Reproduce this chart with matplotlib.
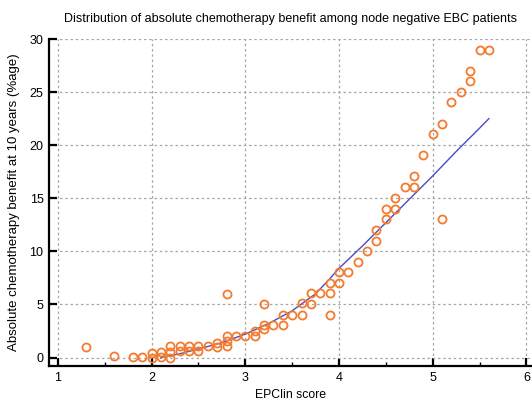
import matplotlib
matplotlib.use('Agg')
import matplotlib.pyplot as plt
from matplotlib.ticker import MultipleLocator

plt.rcParams['font.family'] = ['Liberation Sans', 'DejaVu Sans']

# observed points (EPClin score, absolute benefit %)
score = [1.3, 1.6, 1.8, 1.9, 2.0, 2.0, 2.1, 2.1, 2.2, 2.2, 2.2, 2.3, 2.3,
         2.4, 2.4, 2.5, 2.5, 2.6, 2.7, 2.7, 2.8, 2.8, 2.8, 2.8, 2.9, 3.0,
         3.1, 3.1, 3.2, 3.2, 3.2, 3.3, 3.4, 3.4, 3.5, 3.6, 3.6, 3.7, 3.7,
         3.8, 3.9, 3.9, 3.9, 4.0, 4.0, 4.1, 4.2, 4.3, 4.4, 4.4, 4.5, 4.5,
         4.6, 4.6, 4.7, 4.8, 4.8, 4.9, 5.0, 5.1, 5.1, 5.2, 5.3, 5.4, 5.4,
         5.5, 5.6]
benefit = [1.0, 0.1, 0.05, 0.05, 0.4, 0.0, 0.55, 0.05, 1.1, 0.55, 0.0, 1.1, 0.6,
           1.1, 0.6, 1.1, 0.65, 1.1, 1.4, 1.0, 6.0, 2.05, 1.6, 1.1, 2.05, 2.05,
           2.5, 2.0, 5.05, 3.1, 2.65, 3.05, 4.05, 3.05, 4.0, 5.1, 4.05, 6.05, 5.05,
           6.05, 7.05, 6.05, 4.05, 8.05, 7.05, 8.05, 9.0, 10.0, 12.0, 11.0, 14.0, 13.0,
           15.05, 14.0, 16.05, 17.05, 16.05, 19.05, 21.05, 22.0, 13.0, 24.05, 25.0, 27.0, 26.0,
           29.0, 29.0]

# fitted curve
fit_x = [2.1, 2.3, 2.5, 2.75, 3.0, 3.25, 3.5, 3.75, 3.9, 4.0, 4.25, 4.5,
         4.75, 5.0, 5.25, 5.5, 5.6]
fit_y = [0.0, 0.35, 0.8, 1.4, 2.2, 3.2, 4.4, 6.0, 7.4, 8.4, 10.5, 12.7,
         14.9, 17.1, 19.4, 21.6, 22.5]

fig = plt.figure(figsize=(5.32, 4.0), dpi=100)
ax = fig.add_axes([49/532, 1 - 366/400, 483/532, (366 - 39)/400])

ax.plot(fit_x, fit_y, color='#4b4bbf', lw=1.0, zorder=3)
ax.plot(score, benefit, 'o', mfc='none', mec='#f47a2e', ms=5.8, mew=1.3, zorder=4)

ax.set_xlim(0.905, 6.06)
ax.set_ylim(-0.8, 30)
ax.xaxis.set_major_locator(MultipleLocator(1))
ax.xaxis.set_minor_locator(MultipleLocator(0.5))
ax.yaxis.set_major_locator(MultipleLocator(5))

ax.grid(True, which='major', color='#a6a6a6', ls=(0, (2, 2.2)), lw=0.9)
for s in ['top', 'right']:
    ax.spines[s].set_visible(False)
for s in ['left', 'bottom']:
    ax.spines[s].set_linewidth(1.6)

ax.tick_params(which='major', direction='in', length=6, width=1.6, labelsize=9, pad=4)
ax.tick_params(which='minor', direction='in', length=3, width=1.0)
ax.tick_params(axis='y', which='minor', length=0)

ax.set_title('Distribution of absolute chemotherapy benefit among node negative EBC patients',
             fontsize=9, pad=12)
ax.set_xlabel('EPClin score', fontsize=8.8)
ax.set_ylabel('Absolute chemotherapy benefit at 10 years (%age)', fontsize=9.5, labelpad=7)

fig.savefig('out.png', dpi=100)
